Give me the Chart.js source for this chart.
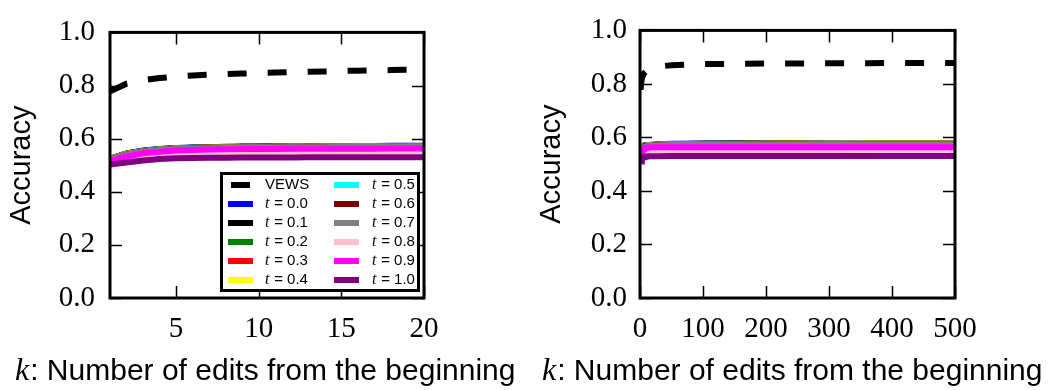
<!DOCTYPE html>
<html>
<head>
<meta charset="utf-8">
<script src="https://cdn.jsdelivr.net/npm/chart.js@4.4.1/dist/chart.umd.min.js"></script>
<style>
  body { margin: 0; background: #fff; }
  #wrap { position: relative; width: 1055px; height: 390px; }
  canvas { position: absolute; top: 0; }
</style>
</head>
<body>
<div id="wrap">
  <canvas id="left" width="530" height="390" style="left:0"></canvas>
  <canvas id="right" width="525" height="390" style="left:530px"></canvas>
</div>
<script>
// k = number of edits from the beginning (1..20 dense, then a sparse tail up to 500)
const kValues = [1, 2, 3, 4, 5, 6, 7, 8, 9, 10, 11, 12, 13, 14, 15, 16, 17, 18, 19, 20,
                 30, 50, 100, 200, 300, 400, 500];

const vews  = [0.778, 0.807, 0.820, 0.828, 0.834, 0.838, 0.841, 0.843, 0.845, 0.847,
               0.849, 0.850, 0.852, 0.853, 0.855, 0.856, 0.857, 0.858, 0.859, 0.860,
               0.865, 0.870, 0.874, 0.876, 0.877, 0.878, 0.878];

const acc00 = [0.525, 0.544, 0.555, 0.561, 0.565, 0.567, 0.568, 0.569, 0.570, 0.570,
               0.571, 0.571, 0.571, 0.572, 0.572, 0.572, 0.572, 0.573, 0.573, 0.573,
               0.575, 0.576, 0.577, 0.578, 0.578, 0.579, 0.579];
const acc01 = [0.524, 0.543, 0.554, 0.560, 0.564, 0.566, 0.567, 0.568, 0.569, 0.569,
               0.570, 0.570, 0.570, 0.571, 0.571, 0.571, 0.571, 0.572, 0.572, 0.572,
               0.574, 0.575, 0.576, 0.577, 0.577, 0.578, 0.578];
const acc02 = [0.524, 0.543, 0.554, 0.560, 0.564, 0.566, 0.567, 0.568, 0.569, 0.569,
               0.570, 0.570, 0.570, 0.570, 0.571, 0.571, 0.571, 0.571, 0.572, 0.572,
               0.574, 0.575, 0.576, 0.577, 0.577, 0.578, 0.578];
const acc03 = [0.523, 0.542, 0.553, 0.559, 0.563, 0.565, 0.566, 0.567, 0.568, 0.569,
               0.569, 0.570, 0.570, 0.570, 0.570, 0.571, 0.571, 0.571, 0.571, 0.571,
               0.573, 0.574, 0.575, 0.576, 0.577, 0.577, 0.577];
const acc04 = [0.523, 0.542, 0.553, 0.559, 0.563, 0.565, 0.566, 0.567, 0.568, 0.568,
               0.569, 0.569, 0.569, 0.570, 0.570, 0.570, 0.570, 0.570, 0.571, 0.571,
               0.573, 0.574, 0.575, 0.576, 0.576, 0.577, 0.577];
const acc05 = [0.522, 0.541, 0.552, 0.558, 0.562, 0.564, 0.565, 0.566, 0.567, 0.568,
               0.568, 0.569, 0.569, 0.569, 0.569, 0.570, 0.570, 0.570, 0.570, 0.570,
               0.572, 0.573, 0.574, 0.575, 0.576, 0.576, 0.576];
const acc06 = [0.522, 0.541, 0.552, 0.558, 0.562, 0.564, 0.565, 0.566, 0.567, 0.567,
               0.568, 0.568, 0.569, 0.569, 0.569, 0.569, 0.569, 0.570, 0.570, 0.570,
               0.572, 0.573, 0.574, 0.575, 0.575, 0.576, 0.576];
const acc07 = [0.521, 0.540, 0.551, 0.557, 0.561, 0.563, 0.564, 0.565, 0.566, 0.567,
               0.567, 0.568, 0.568, 0.568, 0.569, 0.569, 0.569, 0.569, 0.569, 0.569,
               0.571, 0.572, 0.573, 0.574, 0.575, 0.575, 0.575];
const acc08 = [0.509, 0.526, 0.536, 0.542, 0.545, 0.547, 0.548, 0.549, 0.550, 0.550,
               0.550, 0.551, 0.551, 0.551, 0.551, 0.551, 0.552, 0.552, 0.552, 0.552,
               0.552, 0.553, 0.553, 0.553, 0.553, 0.554, 0.554];
const acc09 = [0.515, 0.533, 0.545, 0.551, 0.555, 0.557, 0.559, 0.560, 0.561, 0.561,
               0.561, 0.562, 0.562, 0.562, 0.562, 0.562, 0.562, 0.563, 0.563, 0.563,
               0.563, 0.563, 0.563, 0.563, 0.563, 0.563, 0.563];
const acc10 = [0.503, 0.510, 0.518, 0.523, 0.526, 0.527, 0.528, 0.528, 0.529, 0.529,
               0.529, 0.529, 0.530, 0.530, 0.530, 0.530, 0.530, 0.530, 0.530, 0.530,
               0.530, 0.531, 0.531, 0.531, 0.531, 0.531, 0.531];

const tLabels = ['0.0', '0.1', '0.2', '0.3', '0.4', '0.5', '0.6', '0.7', '0.8', '0.9', '1.0'];
const tSeries = [acc00, acc01, acc02, acc03, acc04, acc05, acc06, acc07, acc08, acc09, acc10];
const tColors = ['#0000ff', '#000000', '#008000', '#ff0000', '#ffff00', '#00ffff',
                 '#800000', '#808080', '#ffc0cb', '#ff00ff', '#800080'];

const yTicks = [0, 0.2, 0.4, 0.6, 0.8, 1.0];
const xTicksLeft = [5, 10, 15, 20];
const xTicksRight = [0, 100, 200, 300, 400, 500];

const SERIF = '"Liberation Serif", "DejaVu Serif", serif';
const SANS = '"Liberation Sans", Arial, sans-serif';
const DASH = [19, 21];

function points(values, maxK) {
  const out = [];
  kValues.forEach((k, i) => { if (k <= maxK) out.push({ x: k, y: values[i] }); });
  return out;
}

function buildDatasets(maxK) {
  const sets = [{
    label: 'VEWS',
    data: points(vews, maxK),
    borderColor: '#000',
    borderWidth: 6,
    borderDash: DASH,
    order: 0
  }];
  tSeries.forEach((s, i) => {
    sets.push({
      label: 't = ' + tLabels[i],
      data: points(s, maxK),
      borderColor: tColors[i],
      borderWidth: 6,
      order: 100 - i
    });
  });
  return sets;
}

// box frame with inward ticks on all four sides
const framePlugin = {
  id: 'frame',
  afterDatasetsDraw(chart) {
    const { ctx, chartArea: a, scales: { x, y } } = chart;
    ctx.save();
    ctx.strokeStyle = '#000';
    ctx.lineWidth = 1.5;
    ctx.beginPath();
    x.ticks.forEach(t => {
      const px = Math.round(x.getPixelForValue(t.value)) + 0.5;
      ctx.moveTo(px, a.bottom); ctx.lineTo(px, a.bottom - 12);
      ctx.moveTo(px, a.top); ctx.lineTo(px, a.top + 12);
    });
    y.ticks.forEach(t => {
      const py = Math.round(y.getPixelForValue(t.value)) + 0.5;
      ctx.moveTo(a.left, py); ctx.lineTo(a.left + 12, py);
      ctx.moveTo(a.right, py); ctx.lineTo(a.right - 12, py);
    });
    ctx.stroke();
    ctx.lineWidth = 3;
    ctx.strokeRect(a.left, a.top, a.width, a.height);
    ctx.restore();
  }
};

// "k: Number of edits from the beginning" with an italic k
const xTitlePlugin = {
  id: 'xTitle',
  afterDraw(chart, args, opts) {
    const ctx = chart.ctx;
    ctx.save();
    ctx.fillStyle = '#000';
    ctx.textBaseline = 'alphabetic';
    ctx.font = 'italic 32px ' + SERIF;
    ctx.fillText('k', opts.x, opts.y);
    const w = ctx.measureText('k').width;
    ctx.font = '30px ' + SANS;
    ctx.fillText(': Number of edits from the beginning', opts.x + w + 1, opts.y);
    ctx.restore();
  }
};

// two-column legend boxed inside the left plot
const boxLegendPlugin = {
  id: 'boxLegend',
  afterDraw(chart, args, opts) {
    if (!opts.show) return;
    const ctx = chart.ctx;
    const sets = chart.data.datasets;
    ctx.save();
    ctx.fillStyle = '#fff';
    ctx.fillRect(220, 172, 200, 120);
    ctx.strokeStyle = '#000';
    ctx.lineWidth = 3;
    ctx.strokeRect(221.5, 173.5, 197, 117);
    sets.forEach((ds, i) => {
      const col = i < 6 ? 0 : 1;
      const row = i % 6;
      const sx = col === 0 ? 228 : 334;
      const tx = col === 0 ? 265 : 372;
      const cy = 185 + row * 19;
      ctx.beginPath();
      ctx.strokeStyle = ds.borderColor;
      ctx.lineWidth = 6;
      if (ds.borderDash) { ctx.setLineDash(ds.borderDash); ctx.lineDashOffset = -3; }
      else ctx.setLineDash([]);
      ctx.moveTo(sx, cy); ctx.lineTo(sx + 25, cy);
      ctx.stroke();
      ctx.fillStyle = '#000';
      ctx.textBaseline = 'middle';
      if (ds.label.startsWith('t')) {
        ctx.font = 'italic 16px ' + SERIF;
        ctx.fillText('t', tx, cy);
        ctx.font = '15px ' + SANS;
        ctx.fillText(' = ' + ds.label.slice(4), tx + 5, cy);
      } else {
        ctx.font = '15px ' + SANS;
        ctx.fillText(ds.label, tx, cy);
      }
    });
    ctx.restore();
  }
};

function makeChart(id, cfg) {
  return new Chart(document.getElementById(id), {
    type: 'line',
    data: { datasets: buildDatasets(cfg.maxK) },
    options: {
      responsive: false,
      devicePixelRatio: 1,
      animation: false,
      layout: { padding: { top: 18, right: cfg.padRight, bottom: 0, left: 0 } },
      elements: { point: { radius: 0 }, line: { tension: 0, borderCapStyle: 'butt' } },
      datasets: { line: { clip: 0 } },
      plugins: {
        legend: { display: false },
        tooltip: { enabled: false },
        xTitle: { x: cfg.titleX, y: 380 },
        boxLegend: { show: cfg.legend }
      },
      scales: {
        x: {
          type: 'linear',
          min: cfg.xMin,
          max: cfg.xMax,
          grid: { display: false, drawTicks: false },
          border: { display: false },
          afterBuildTicks: s => { s.ticks = cfg.xTicks.map(v => ({ value: v })); },
          afterFit: s => { s.height = 92; },
          ticks: {
            color: '#000',
            padding: 14,
            maxRotation: 0,
            font: { family: SERIF, size: 29 },
            callback: v => String(v)
          }
        },
        y: {
          min: 0,
          max: 1,
          grid: { display: false, drawTicks: false },
          border: { display: false },
          afterBuildTicks: s => { s.ticks = yTicks.map(v => ({ value: v })); },
          afterFit: s => { s.width = 110; },
          ticks: {
            color: '#000',
            padding: cfg.yPad,
            font: { family: SERIF, size: 29 },
            callback: v => v.toFixed(1)
          },
          title: {
            display: true,
            text: 'Accuracy',
            color: '#000',
            padding: { top: 5, bottom: 0 },
            font: { family: SANS, size: 29 }
          }
        }
      }
    },
    plugins: [framePlugin, xTitlePlugin, boxLegendPlugin]
  });
}

makeChart('left', { maxK: 20, xMin: 1, xMax: 20, xTicks: xTicksLeft, padRight: 106,
                    yPad: 15, titleX: 15, legend: true });
makeChart('right', { maxK: 500, xMin: 0, xMax: 500, xTicks: xTicksRight, padRight: 100,
                     yPad: 13, titleX: 12, legend: false });
</script>
</body>
</html>
